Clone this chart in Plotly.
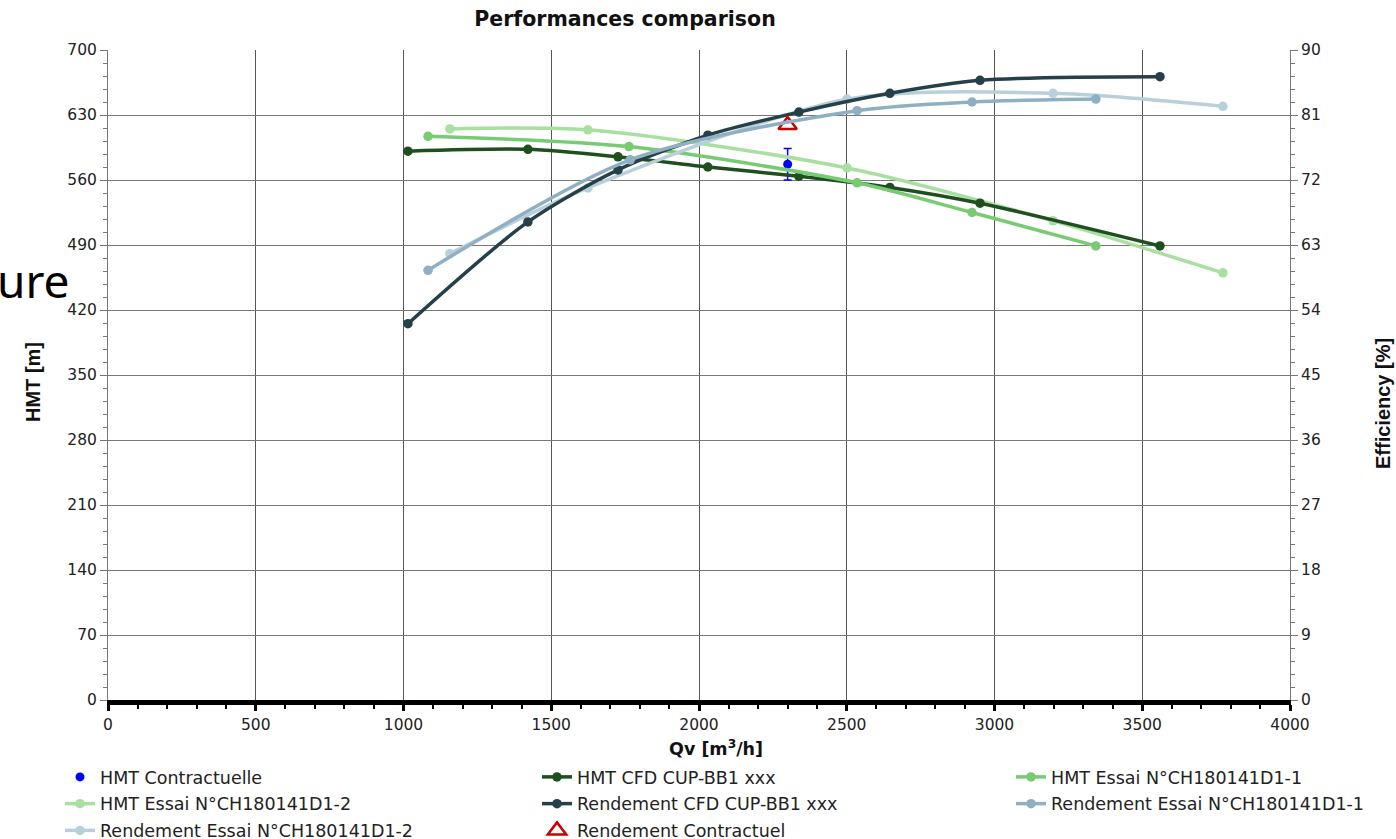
import plotly.graph_objects as go

# ---- data ----
hmt_cfd_q = [1015, 1421, 1726, 2030, 2338, 2646, 2951, 3560]
hmt_cfd_h = [591, 593, 585, 574, 564, 552, 535, 489]

rend_cfd_q = [1015, 1421, 1726, 2030, 2338, 2646, 2951, 3560]
rend_cfd_e = [52.1, 66.2, 73.4, 78.2, 81.4, 84.0, 85.8, 86.3]

hmt_e1_q = [1083, 1763, 2535, 2924, 3343]
hmt_e1_h = [607, 596, 557, 525, 489]

hmt_e2_q = [1157, 1624, 2501, 3198, 3773]
hmt_e2_h = [615, 614, 573, 516, 460]

rend_e1_q = [1083, 1767, 2535, 2924, 3343]
rend_e1_e = [59.5, 74.8, 81.6, 82.8, 83.2]

rend_e2_q = [1157, 1624, 2501, 3198, 3773]
rend_e2_e = [61.8, 70.9, 83.2, 84.0, 82.2]

contr_q = [2300]
contr_h = [577]
contr_h_err = [17]
contr_rend = [79.6]

FONT = "DejaVu Sans, Liberation Sans, sans-serif"
FONT_V = "Liberation Sans, Arial, sans-serif"

c_hmt_cfd = "#1f4f1f"
c_rend_cfd = "#26404a"
c_hmt_e1 = "#78cb72"
c_hmt_e2 = "#a9dfa0"
c_rend_e1 = "#8fb0c3"
c_rend_e2 = "#b9d0db"

fig = go.Figure()

def line_trace(x, y, name, color, legend, yaxis="y"):
    return go.Scatter(x=x, y=y, name=name, mode="lines+markers",
                      line=dict(color=color, width=3.5, shape="spline", smoothing=0.8),
                      marker=dict(color=color, size=9.5), yaxis=yaxis,
                      legend=legend, legendgroup=name)

# column 1
fig.add_trace(go.Scatter(x=contr_q, y=contr_h, name="HMT Contractuelle", mode="markers",
                         marker=dict(color="#0000ff", size=9),
                         error_y=dict(type="data", array=contr_h_err, color="#0000ff",
                                      thickness=1.5, width=4),
                         legend="legend", legendgroup="HMT Contractuelle"))
fig.add_trace(line_trace(hmt_e2_q, hmt_e2_h, "HMT Essai N°CH180141D1-2", c_hmt_e2, "legend"))
fig.add_trace(line_trace(rend_e2_q, rend_e2_e, "Rendement Essai N°CH180141D1-2", c_rend_e2, "legend", "y2"))
# column 2
fig.add_trace(line_trace(hmt_cfd_q, hmt_cfd_h, "HMT CFD CUP-BB1 xxx", c_hmt_cfd, "legend2"))
fig.add_trace(line_trace(rend_cfd_q, rend_cfd_e, "Rendement CFD CUP-BB1 xxx", c_rend_cfd, "legend2", "y2"))
fig.add_trace(go.Scatter(x=contr_q, y=contr_rend, name="Rendement Contractuel", mode="markers",
                         marker=dict(color="#cc0000", size=16, symbol="triangle-up-open",
                                     line=dict(width=2.5, color="#cc0000")),
                         yaxis="y2", legend="legend2", legendgroup="Rendement Contractuel"))
# column 3
fig.add_trace(line_trace(hmt_e1_q, hmt_e1_h, "HMT Essai N°CH180141D1-1", c_hmt_e1, "legend3"))
fig.add_trace(line_trace(rend_e1_q, rend_e1_e, "Rendement Essai N°CH180141D1-1", c_rend_e1, "legend3", "y2"))

tickfont = dict(family=FONT, size=15.5, color="#222222")

def leg(xpx):
    return dict(orientation="v", xref="container", yref="container",
                x=xpx/1396, xanchor="left", y=1 - 759/839, yanchor="top",
                font=dict(family=FONT, size=17.5, color="#222222"),
                bgcolor="rgba(0,0,0,0)", itemwidth=30, traceorder="grouped",
                tracegroupgap=1)

fig.update_layout(
    width=1396, height=839,
    margin=dict(l=108, r=106, t=50, b=139, autoexpand=False),
    paper_bgcolor="white", plot_bgcolor="white",
    font=dict(family=FONT, color="#111111"),
    title=dict(text="<b>Performances comparison</b>", x=625/1396, xanchor="center",
               y=1 - 19/839, yanchor="middle", font=dict(family=FONT, size=20.5, color="#111111")),
    xaxis=dict(range=[0, 4000], tick0=0, dtick=500, showgrid=True, gridcolor="#555555",
               gridwidth=1, showline=True, linecolor="black", linewidth=5,
               ticks="outside", ticklen=6, tickwidth=3, tickcolor="black",
               minor=dict(dtick=100, ticks="outside", ticklen=4, tickwidth=2, tickcolor="black",
                          showgrid=False),
               tickfont=tickfont, zeroline=False),
    yaxis=dict(range=[0, 700], tick0=0, dtick=70, showgrid=True, gridcolor="#777777",
               gridwidth=1, showline=True, linecolor="#777777", linewidth=1,
               ticks="outside", ticklen=7, tickcolor="#777777",
               minor=dict(dtick=14, ticks="outside", ticklen=4, tickcolor="#777777", showgrid=False),
               tickfont=tickfont, zeroline=False),
    yaxis2=dict(range=[0, 90], tick0=0, dtick=9, overlaying="y", side="right",
                showgrid=False, showline=True, linecolor="#777777", linewidth=1,
                ticks="outside", ticklen=7, tickcolor="#777777",
                minor=dict(dtick=1.8, ticks="outside", ticklen=4, tickcolor="#777777"),
                tickfont=tickfont, zeroline=False),
    legend=leg(60),
    legend2=leg(537),
    legend3=leg(1011),
    showlegend=True,
)

fig.add_annotation(text="<b>Qv [m<sup>3</sup>/h]</b>", xref="paper", yref="paper",
                   x=(716-108)/1182, y=-(748-700)/650, xanchor="center", yanchor="middle",
                   showarrow=False, font=dict(family=FONT, size=17.5, color="#111111"))
fig.add_annotation(text="<b>HMT [m]</b>", xref="paper", yref="paper",
                   x=(33-108)/1182, y=(700-382)/650, xanchor="center", yanchor="middle",
                   textangle=-90, showarrow=False, font=dict(family=FONT_V, size=20, color="#111111"))
fig.add_annotation(text="<b>Efficiency [%]</b>", xref="paper", yref="paper",
                   x=(1383-108)/1182, y=(700-404)/650, xanchor="center", yanchor="middle",
                   textangle=-90, showarrow=False, font=dict(family=FONT_V, size=20, color="#111111"))
fig.add_annotation(text="ure", xref="paper", yref="paper",
                   x=(71-108)/1182, y=(700-280)/650, xanchor="right", yanchor="middle",
                   showarrow=False, font=dict(family="Noto Sans", size=46, color="#000000"))

fig.write_html("out.html")
